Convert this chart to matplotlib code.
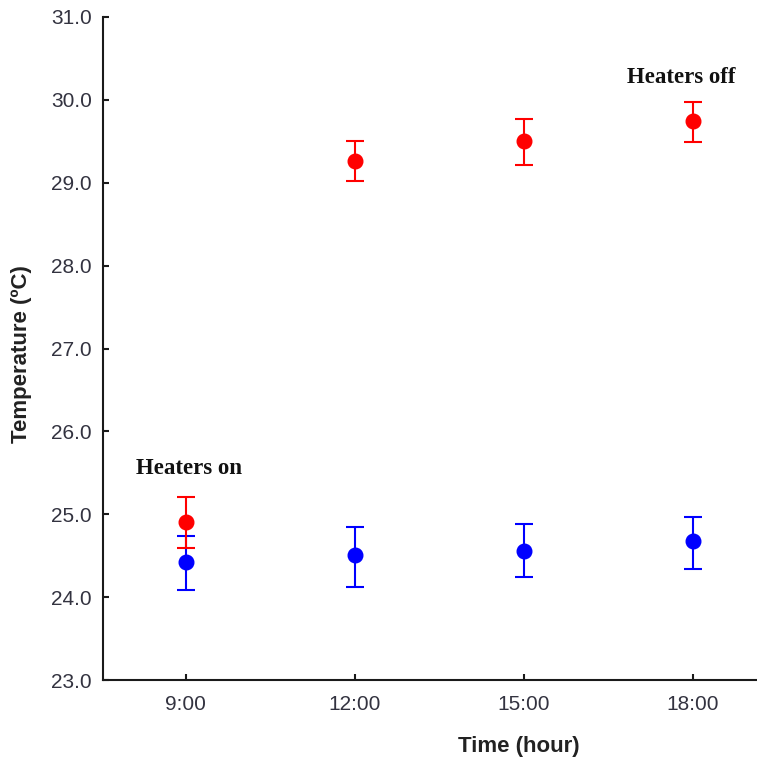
import matplotlib
matplotlib.use("Agg")
import matplotlib.pyplot as plt

# Hourly temperature means with error bars
times = ["9:00", "12:00", "15:00", "18:00"]
heated_mean = [24.91, 29.26, 29.50, 29.74]
heated_low = [24.59, 29.02, 29.22, 29.49]
heated_high = [25.21, 29.50, 29.77, 29.98]
control_mean = [24.42, 24.51, 24.56, 24.68]
control_low = [24.09, 24.12, 24.24, 24.34]
control_high = [24.74, 24.85, 24.88, 24.97]
y_ticks = [23.0, 24.0, 25.0, 26.0, 27.0, 28.0, 29.0, 30.0, 31.0]

W, H = 757, 758
fig = plt.figure(figsize=(W / 100, H / 100), dpi=100)
ax = fig.add_axes([103 / W, (H - 680) / H, (W - 103) / W, (680 - 17) / H])

x = list(range(len(times)))

def draw(means, lows, highs, color):
    err = [[m - l for m, l in zip(means, lows)], [h - m for m, h in zip(means, highs)]]
    ax.errorbar(x, means, yerr=err, fmt="o", color=color, ecolor=color,
                markersize=10.5, elinewidth=1.5, capsize=6.5, capthick=1.5, zorder=3)

draw(control_mean, control_low, control_high, "#0000ff")
draw(heated_mean, heated_low, heated_high, "#ff0000")

ax.set_xlim(-0.49, 3.38)
ax.set_ylim(23, 31)
ax.set_xticks(x)
ax.set_xticklabels(times)
ax.set_yticks(y_ticks)
ax.set_yticklabels([f"{v:.1f}" for v in y_ticks])

for s in ("top", "right"):
    ax.spines[s].set_visible(False)
for s in ("left", "bottom"):
    ax.spines[s].set_linewidth(1.5)
    ax.spines[s].set_color("#1a1a1a")

ax.tick_params(direction="in", length=4, width=1.5, colors="#1a1a1a",
               labelcolor="#333340", labelsize=15)
ax.tick_params(axis="y", pad=8)
ax.tick_params(axis="x", pad=11)
for lab in ax.get_xticklabels() + ax.get_yticklabels():
    lab.set_family("Liberation Sans")

ax.set_xlabel("Time (hour)", family="Liberation Sans", fontweight="bold",
              fontsize=16, color="#222222")
ax.xaxis.set_label_coords((519 - 103) / (W - 103), -0.085)
ax.set_ylabel("Temperature (ºC)", family="Liberation Sans", fontweight="bold",
              fontsize=16, color="#222222")
ax.yaxis.set_label_coords(-0.108, 0.492)

ax.text(0.02, 25.55, "Heaters on", family="Liberation Serif", fontweight="bold",
        fontsize=16.5, ha="center", va="center", color="#111111")
ax.text(2.93, 30.27, "Heaters off", family="Liberation Serif", fontweight="bold",
        fontsize=16.5, ha="center", va="center", color="#111111")

fig.savefig("out.png", dpi=100)
